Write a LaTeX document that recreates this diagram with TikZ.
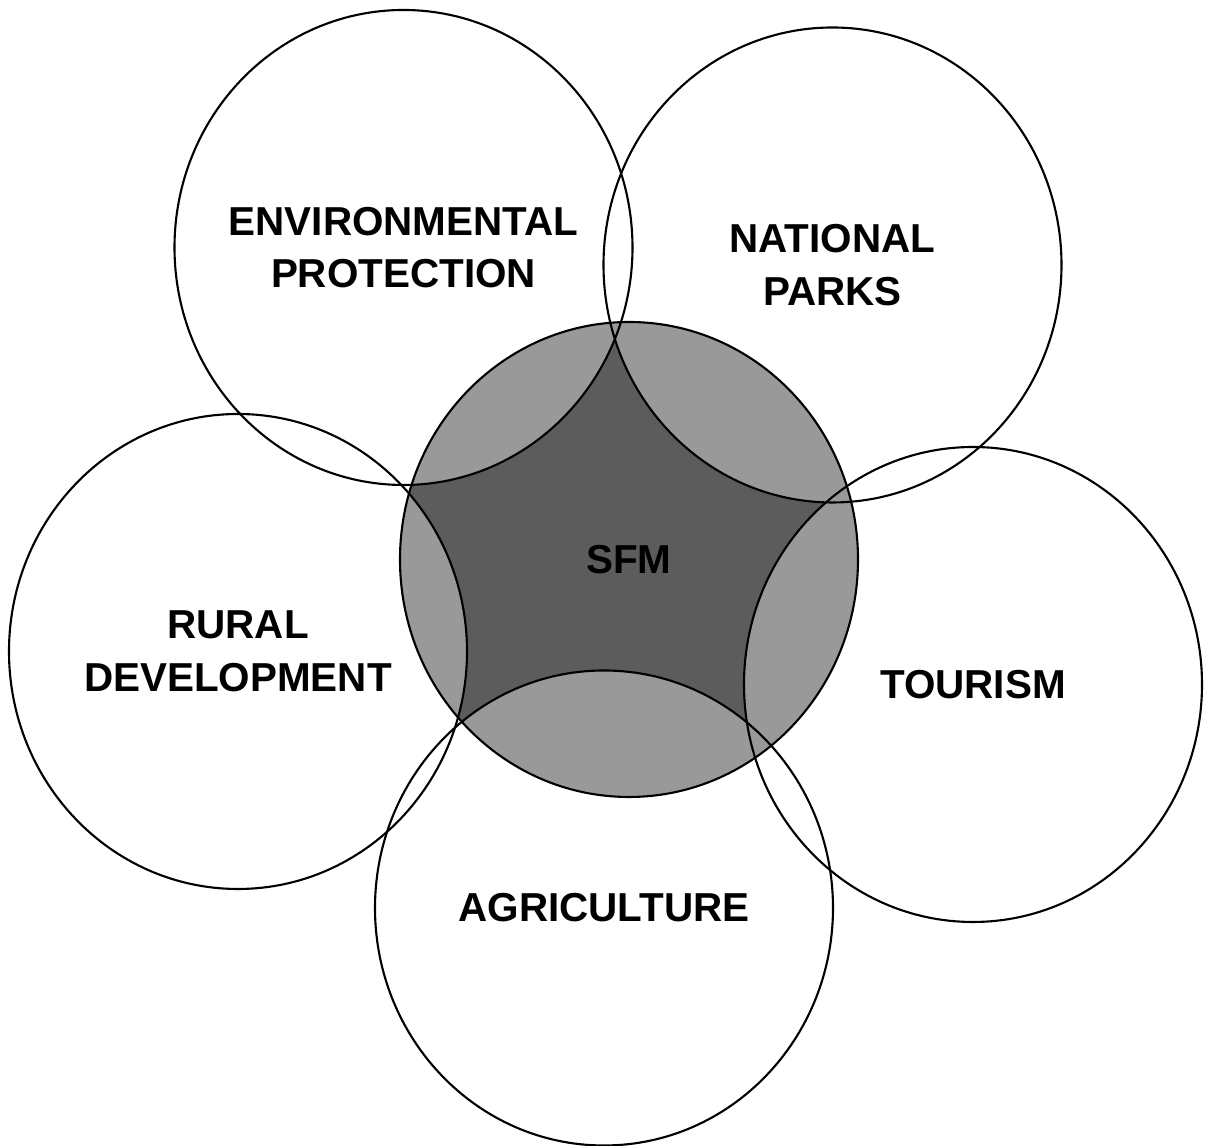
\documentclass[tikz,border=0pt]{standalone}
\usepackage{fontspec}
\setmainfont{Liberation Sans}
\usetikzlibrary{backgrounds}
\definecolor{ringgrey}{gray}{0.6}
\definecolor{coregrey}{gray}{0.36}
\begin{document}
\begin{tikzpicture}[
		every node/.style={inner sep=0pt, align=center, font=\fontsize{11.5}{15}\selectfont\bfseries},
		rim/.style={x radius=2.29cm, y radius=2.375cm},
		outline/.style={draw=black, line width=0.6pt}
		]
		\useasboundingbox (0,0) rectangle (12.06,11.46);
		\node (sfm) at (6.29,5.865) {SFM};
		\node (env) at (4.035,8.985) {ENVIRONMENTAL\\PROTECTION};
		\node (parks) at (8.325,8.81) {NATIONAL\\PARKS};
		\node (rural) at (2.38,4.945) {RURAL\\DEVELOPMENT};
		\node (tourism) at (9.73,4.615) {TOURISM};
		\node (agri) at (6.04,2.38) {AGRICULTURE};
		% one ring round every label
		\foreach \n in {sfm,env,parks,rural,tourism,agri}
			\draw[outline] (\n.center) ellipse [rim];
		% shading of the core: overlaps light, the rest dark
		\begin{scope}[on background layer]
			\fill[coregrey] (sfm.center) ellipse [rim];
			\clip (sfm.center) ellipse [rim];
			\foreach \n in {env,parks,rural,tourism,agri}
				\fill[ringgrey] (\n.center) ellipse [rim];
		\end{scope}
	\end{tikzpicture}
\end{document}
